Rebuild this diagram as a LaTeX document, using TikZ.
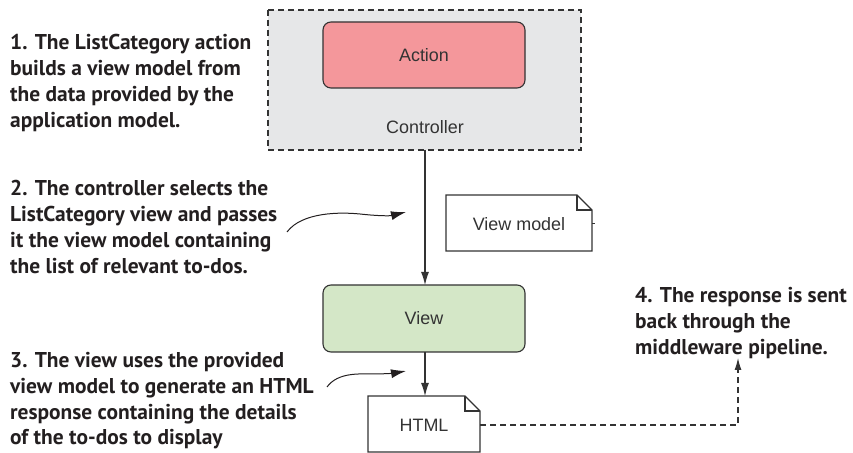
\documentclass[tikz,border=0pt]{standalone}
\usepackage{fontspec}
\setmainfont{Liberation Sans}
\newfontfamily\notefont{PT Sans}
\usetikzlibrary{arrows.meta}
\definecolor{ctrlfill}{HTML}{E6E7E8}
\definecolor{actfill}{HTML}{F4979B}
\definecolor{viewfill}{HTML}{D4E7C7}
\definecolor{ink}{HTML}{231F20}
\definecolor{edge}{HTML}{333333}
\tikzset{
  boxlabel/.style={font=\fontsize{18}{21}\selectfont, text=edge, inner sep=0pt},
  rbox/.style={draw=edge, line width=1.1pt, rounded corners=8bp},
  docbox/.style={draw=edge, line width=1.1pt, fill=white},
  note/.style={font=\notefont\bfseries\fontsize{21.5}{25.8}\selectfont, text=ink, align=left, anchor=west, inner sep=0pt},
  flow/.style={draw=edge, line width=1.1pt, -{Latex[length=13bp,width=8bp]}},
  pointer/.style={draw=ink, line width=1pt, -{Latex[length=15bp,width=9bp]}},
  dashflow/.style={draw=edge, line width=1.1pt, dash pattern=on 6bp off 4bp, -{Latex[length=12bp,width=7bp]}},
}
\begin{document}
\begin{tikzpicture}[x=1bp,y=-1bp]
\useasboundingbox (0,0) rectangle (853,453);
% controller
\draw[fill=ctrlfill, draw=edge, line width=1.1pt, dash pattern=on 6bp off 4bp] (268,10) rectangle (581,150);
\coordinate (ctrlbot) at (425,150);
\node[boxlabel] (ctrl) at (425,127) {Controller};
\fill[actfill, rounded corners=8bp] (323,22) rectangle (525,88);
\draw[rbox] (323,22) rectangle (525,88);
\node[boxlabel] (action) at (424,55) {Action};
% view
\fill[viewfill, rounded corners=8bp] (323,285) rectangle (525,352);
\draw[rbox] (323,285) rectangle (525,352);
\coordinate (viewtop) at (425,285);
\coordinate (viewbot) at (425,352);
\node[boxlabel] (view) at (424,318) {View};
% view model doc
\draw[docbox] (446,195) -- (577,195) -- (592,210) -- (592,251) -- (446,251) -- cycle;
\draw[edge, line width=1.1pt] (577,195) -- (577,210) -- (592,210);
\draw[edge, line width=1pt] (592,224) -- (595,224);
\node[boxlabel] (vm) at (519,224) {View model};
% html doc
\draw[docbox] (368,396) -- (465,396) -- (480,411) -- (480,452) -- (368,452) -- cycle;
\draw[edge, line width=1.1pt] (465,396) -- (465,411) -- (480,411);
\coordinate (htmltop) at (425,396);
\coordinate (htmlright) at (480,425);
\node[boxlabel] (html) at (424,425) {HTML};
% flows
\draw[flow] (ctrlbot) -- (viewtop);
\draw[flow] (viewbot) -- (htmltop);
\coordinate (resp) at (738,358);
\draw[dashflow] (htmlright) -- (738,425) -- (resp);
% notes
\node[note] (n1) at (10,83) {1. The ListCategory action\\builds a view model from\\the data provided by the\\application model.};
\node[note] (n2) at (10,227) {2. The controller selects the\\ListCategory view and passes\\it the view model containing\\the list of relevant to-dos.};
\node[note] (n3) at (10,401) {3. The view uses the provided\\view model to generate an HTML\\response containing the details\\of the to-dos to display};
\node[note] (n4) at (635,323) {4. The response is sent\\back through the\\middleware pipeline.};
% pointers
\coordinate (p1s) at (287,232);
\coordinate (p1e) at (406,212);
\draw[pointer] (p1s) .. controls (302,212) and (340,212) .. (360,214) .. controls (378,216) and (390,216) .. (p1e);
\coordinate (p2s) at (327,387);
\coordinate (p2e) at (406,371);
\draw[pointer] (p2s) .. controls (338,372) and (360,374) .. (372,374) .. controls (385,374) and (395,373) .. (p2e);
\end{tikzpicture}
\end{document}
